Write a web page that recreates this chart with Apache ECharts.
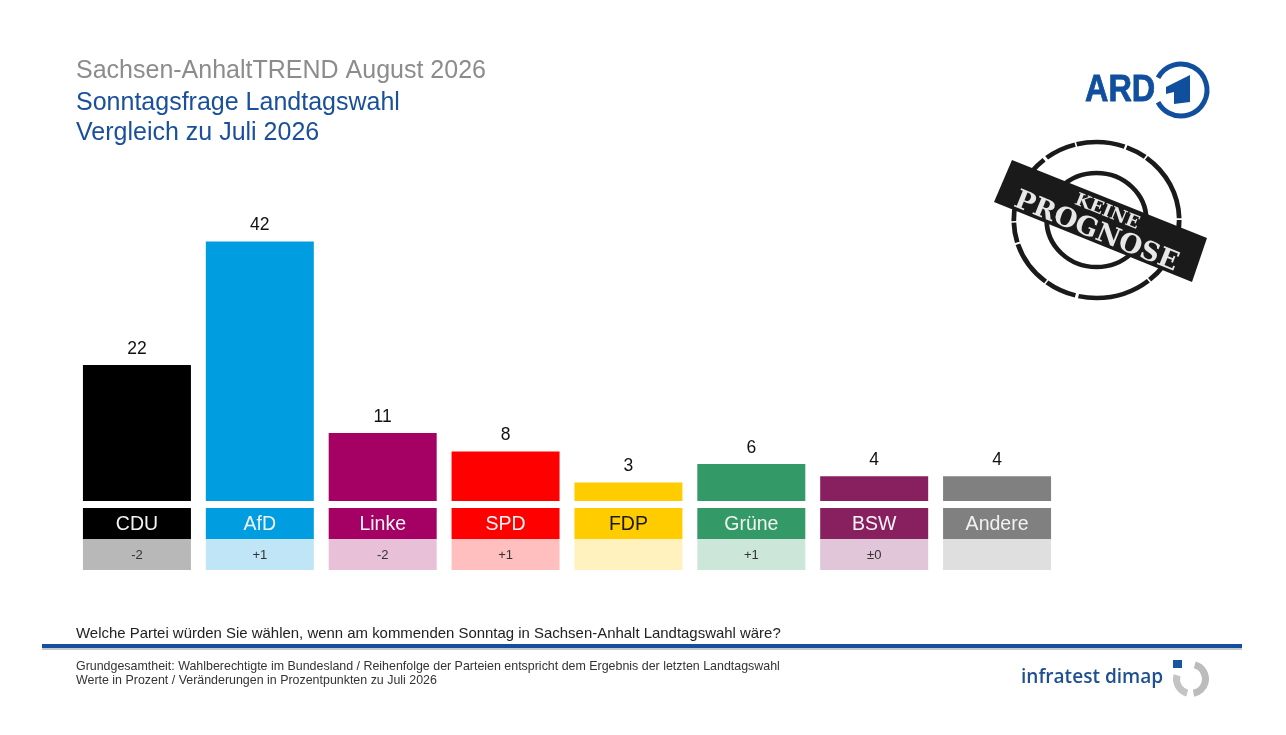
<!DOCTYPE html>
<html><head><meta charset="utf-8">
<style>html,body{margin:0;padding:0;background:#fff}#c{width:1286px;height:735px;filter:blur(0.4px)}</style>
<script src="https://cdn.jsdelivr.net/npm/echarts@6/dist/echarts.min.js"></script>
</head><body><div id="c"></div>
<script>
const parties = ['CDU','AfD','Linke','SPD','FDP','Grüne','BSW','Andere'];
const shares = [22,42,11,8,3,6,4,4];
const changes = ['-2','+1','-2','+1','','+1','±0',''];
const boxes = [1,1,1,1,1,1,1,1];
const barColors = ['#000000','#009ee0','#a50064','#ff0000','#ffcc00','#339966','#88205f','#808080'];
const lightColors = ['#b8b8b8','#c0e5f7','#e8c0d8','#ffbfbf','#fff2bf','#cce6d9','#e0c6d8','#dfdfdf'];
const nameColors = ['#f2f2f2','#f2f2f2','#f5f5f5','#f5f5f5','#1a1a1a','#f2f2f2','#f5f5f5','#f2f2f2'];

const font = '"Liberation Sans", Arial, sans-serif';
const blue = '#1a4f9c';
const txt=(text,x,y,size,color,extra={},scaleX=1)=>({type:'text',x,y,scaleX,silent:true,style:Object.assign({text,fontSize:size,fill:color,fontFamily:font,textVerticalAlign:'middle'},extra)});
const deg=Math.PI/180;
const ink='#1a1a1a';
const graphic=[
  txt('Sachsen-AnhaltTREND August 2026',76,71,25,'#8c8c8c'),
  txt('Sonntagsfrage Landtagswahl',76,103,25,blue),
  txt('Vergleich zu Juli 2026',76,133,25,blue),
  txt('Welche Partei würden Sie wählen, wenn am kommenden Sonntag in Sachsen-Anhalt Landtagswahl wäre?',76,633.5,14.95,'#222'),
  txt('Grundgesamtheit: Wahlberechtigte im Bundesland / Reihenfolge der Parteien entspricht dem Ergebnis der letzten Landtagswahl',76,667,12.43,'#333'),
  txt('Werte in Prozent / Veränderungen in Prozentpunkten zu Juli 2026',76,681,12.43,'#333'),
  {type:'rect',silent:true,shape:{x:42,y:647,width:1200,height:3},style:{fill:'#c9c9c9'}},
  {type:'rect',silent:true,shape:{x:42,y:644,width:1200,height:4},style:{fill:'#14509e'}},
  // ARD logo
  txt('ARD',1085,91,36,'#0f4f9e',{fontWeight:'bold',stroke:'#0f4f9e',lineWidth:0.8},0.9),
  {type:'arc',silent:true,shape:{cx:1181,cy:90,r:26,startAngle:-152*deg,endAngle:152*deg,clockwise:true},style:{stroke:'#0f4f9e',lineWidth:5,fill:null}},
  {type:'polygon',silent:true,shape:{points:[[1166,87],[1190,75],[1190,102],[1174,104],[1174,92],[1166,94]]},style:{fill:'#0f4f9e'}},
  // stamp
  {type:'group',x:1096.5,y:220,scaleX:1.06,silent:true,children:[
    {type:'circle',shape:{cx:0,cy:0,r:78},style:{fill:null,stroke:ink,lineWidth:4.5,lineDash:[46,2,20,1.5,70,3,30,1.5]}},
    {type:'circle',shape:{cx:0,cy:0,r:47},style:{fill:null,stroke:ink,lineWidth:4.5}}
  ]},
  {type:'polygon',silent:true,shape:{points:[[1012,160],[1207,238],[1192,282],[994,202]]},style:{fill:ink}},
  {type:'group',x:1101,y:220,rotation:-22*deg,silent:true,children:[
    {type:'text',x:2.6,y:-9.6,style:{text:'KEINE',fontSize:18,fontWeight:'bold',fontFamily:'"DejaVu Serif", serif',fill:'#e8e8e8',textAlign:'center',textVerticalAlign:'middle'}},
    {type:'text',x:0,y:13,style:{text:'PROGNOSE',fontSize:26.5,fontWeight:'bold',fontFamily:'"DejaVu Serif", serif',fill:'#e8e8e8',textAlign:'center',textVerticalAlign:'middle'}}
  ]},
  // infratest dimap
  txt('infratest dimap',1021,677,20.5,'#1d4f91',{fontFamily:'"Open Sans", "Noto Sans", sans-serif',fontWeight:600},0.93),
  {type:'rect',silent:true,shape:{x:1173,y:660,width:9,height:8},style:{fill:'#1a56a0'}},
  {type:'arc',silent:true,shape:{cx:1191,cy:679,r:14.5,startAngle:-75*deg,endAngle:80*deg,clockwise:true},style:{stroke:'#bcbcbc',lineWidth:7,fill:null}},
  {type:'arc',silent:true,shape:{cx:1191,cy:679,r:14.5,startAngle:105*deg,endAngle:195*deg,clockwise:true},style:{stroke:'#c4c4c4',lineWidth:7,fill:null}}
];
const left=75.5, right=1286-1058.5;
const hiddenX=(i)=>({type:'category',gridIndex:i,data:parties,show:false});
const hiddenY=(i,max)=>({type:'value',gridIndex:i,min:0,max,show:false});
const chart=echarts.init(document.getElementById('c'),null,{renderer:'canvas'});
chart.setOption({
  animation:false,
  backgroundColor:'#fff',
  graphic,
  grid:[
    {left,right,top:223,height:278},
    {left,right,top:508,height:31},
    {left,right,top:539,height:31}
  ],
  xAxis:[hiddenX(0),hiddenX(1),hiddenX(2)],
  yAxis:[hiddenY(0,45),hiddenY(1,1),hiddenY(2,1)],
  series:[
    {type:'bar',barWidth:108,xAxisIndex:0,yAxisIndex:0,
      data:shares.map((v,i)=>({value:v,itemStyle:{color:barColors[i]}})),
      label:{show:true,position:'top',distance:7,color:'#111',fontSize:17.5,fontFamily:font}},
    {type:'bar',barWidth:108,xAxisIndex:1,yAxisIndex:1,
      data:boxes.map((v,i)=>({value:v,itemStyle:{color:barColors[i]},
        label:{show:true,position:'inside',offset:[0,1],formatter:parties[i],color:nameColors[i],fontSize:19.5,fontFamily:font}}))},
    {type:'bar',barWidth:108,xAxisIndex:2,yAxisIndex:2,
      data:boxes.map((v,i)=>({value:v,itemStyle:{color:lightColors[i]},
        label:{show:!!changes[i],position:'inside',offset:[0,1],formatter:changes[i],color:'#333',fontSize:13,fontFamily:font}}))}
  ]
});
</script></body></html>
